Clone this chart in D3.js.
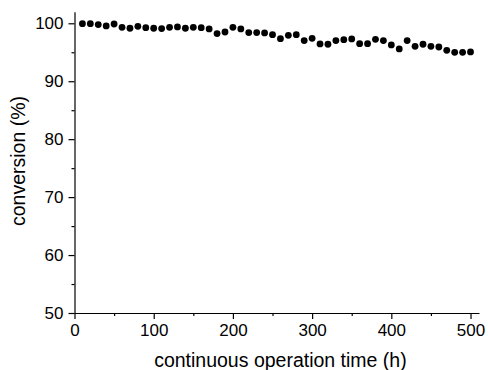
<!DOCTYPE html>
<html>
<head>
<meta charset="utf-8">
<script src="https://cdn.jsdelivr.net/npm/d3@7"></script>
<style>
  body { margin: 0; background: #fff; }
  text { font-family: "Liberation Sans", Arial, sans-serif; fill: #000; }
</style>
</head>
<body>
<div id="chart"></div>
<script>
// operation time (h)
const times = [
  10, 20, 30, 40, 50, 60, 70, 80, 90, 100,
  110, 120, 130, 140, 150, 160, 170, 180, 190, 200,
  210, 220, 230, 240, 250, 260, 270, 280, 290, 300,
  310, 320, 330, 340, 350, 360, 370, 380, 390, 400,
  410, 420, 430, 440, 450, 460, 470, 480, 490, 500
];
// conversion (%)
const conversion = [
  99.94, 99.94, 99.77, 99.54, 99.88, 99.31, 99.14, 99.48, 99.25, 99.14,
  99.08, 99.31, 99.37, 99.14, 99.31, 99.25, 99.02, 98.22, 98.5, 99.31,
  99.02, 98.39, 98.39, 98.33, 98.04, 97.35, 97.93, 98.04, 97.01, 97.41,
  96.43, 96.38, 97.01, 97.18, 97.3, 96.49, 96.49, 97.24, 97.01, 96.26,
  95.57, 97.01, 96.03, 96.38, 96.03, 95.91, 95.34, 94.99, 94.99, 95.05
];
const xTicks = [0, 100, 200, 300, 400, 500];
const yTicks = [50, 60, 70, 80, 90, 100];

function drawChart(id) {
  const w = 488;
  const h = 370;
  const margin = { left: 74.5, right: 9, top: 11.7, bottom: 57 };

  const svg = d3
    .select(`#${id}`)
    .append("svg")
    .attr("width", w)
    .attr("height", h);

  const x = d3.scaleLinear().domain([0, 510.7]).range([margin.left, w - margin.right]);
  const y = d3.scaleLinear().domain([50, 102]).range([h - margin.bottom, margin.top]);

  // minor ticks every 50 / 5
  const xMinor = d3.range(50, 510, 100);
  const yMinor = d3.range(55, 100, 10);

  svg
    .append("g")
    .attr("transform", `translate(0,${h - margin.bottom})`)
    .call(d3.axisBottom(x).tickValues(xTicks).tickSize(6).tickSizeOuter(0).tickPadding(5));
  svg
    .append("g")
    .attr("transform", `translate(0,${h - margin.bottom})`)
    .call(d3.axisBottom(x).tickValues(xMinor).tickSize(3).tickSizeOuter(0).tickFormat(""))
    .select(".domain")
    .remove();

  svg
    .append("g")
    .attr("transform", `translate(${margin.left},0)`)
    .call(d3.axisLeft(y).tickValues(yTicks).tickSize(6).tickSizeOuter(0).tickPadding(5));
  svg
    .append("g")
    .attr("transform", `translate(${margin.left},0)`)
    .call(d3.axisLeft(y).tickValues(yMinor).tickSize(3).tickSizeOuter(0).tickFormat(""))
    .select(".domain")
    .remove();

  svg.selectAll(".domain, .tick line").attr("stroke", "#000").attr("stroke-width", 1.2);
  svg.selectAll(".tick text").attr("font-size", 17).attr("fill", "#000");

  // axis titles
  svg
    .append("text")
    .attr("x", x(260))
    .attr("y", 367)
    .attr("text-anchor", "middle")
    .attr("font-size", 19.5)
    .text("continuous operation time (h)");

  svg
    .append("text")
    .attr("transform", `translate(25,161) rotate(-90)`)
    .attr("text-anchor", "middle")
    .attr("font-size", 19.5)
    .text("conversion (%)");

  // data points
  svg
    .append("g")
    .selectAll("circle")
    .data(times.map((t, i) => ({ t: t, v: conversion[i] })))
    .enter()
    .append("circle")
    .attr("cx", (d) => x(d.t))
    .attr("cy", (d) => y(d.v))
    .attr("r", 3.4)
    .attr("fill", "#000");
}

document.addEventListener("DOMContentLoaded", function () {
  drawChart("chart");
});
</script>
</body>
</html>
